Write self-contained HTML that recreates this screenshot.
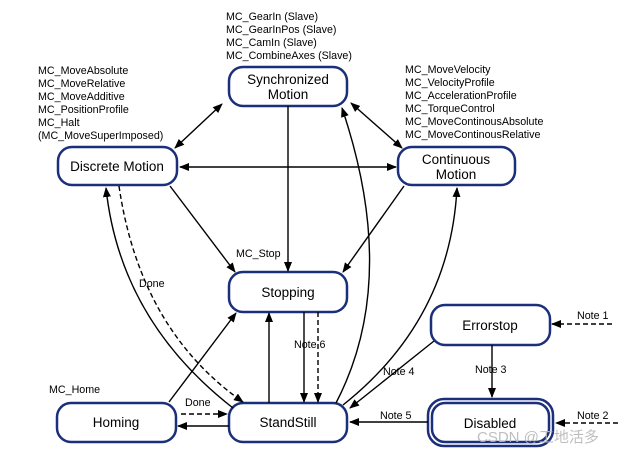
<!DOCTYPE html>
<html><head><meta charset="utf-8"><style>
html,body{margin:0;padding:0;background:#fff;}
svg{display:block;font-family:"Liberation Sans","Noto Sans CJK SC",sans-serif;}
</style></head><body>
<svg width="626" height="454" viewBox="0 0 626 454" xmlns="http://www.w3.org/2000/svg">
<defs>
<marker id="a" markerWidth="10" markerHeight="8" refX="9" refY="4" orient="auto" markerUnits="userSpaceOnUse"><path d="M0,0 L10,4 L0,8 z" fill="#000"/></marker>
<marker id="s" markerWidth="10" markerHeight="8" refX="1" refY="4" orient="auto" markerUnits="userSpaceOnUse"><path d="M10,0 L0,4 L10,8 z" fill="#000"/></marker>
</defs>
<g fill="none" stroke="#1b2f7a" stroke-width="2.5">
<rect x="229" y="67" width="118" height="39" rx="14"/>
<rect x="58" y="147" width="119" height="38" rx="14"/>
<rect x="398" y="147" width="117" height="38" rx="14"/>
<rect x="229" y="272" width="118" height="40" rx="14"/>
<rect x="431" y="305" width="119" height="40" rx="14"/>
<rect x="57" y="403" width="119" height="39" rx="14"/>
<rect x="229" y="403" width="118" height="39" rx="14"/>
<rect x="428" y="399" width="125" height="47" rx="16"/>
<rect x="432" y="403" width="117" height="39" rx="13"/>
</g>
<g font-size="13.5" text-anchor="middle" fill="#000">
<text x="288" y="84">Synchronized</text><text x="288" y="99">Motion</text>
<text x="117" y="171">Discrete Motion</text>
<text x="456" y="164">Continuous</text><text x="456" y="179">Motion</text>
<text x="288" y="297">Stopping</text>
<text x="490" y="330">Errorstop</text>
<text x="116" y="427">Homing</text>
<text x="288" y="427">StandStill</text>
<text x="490" y="428">Disabled</text>
</g>
<g font-size="10.7" fill="#000">
<text x="226" y="20">MC_GearIn (Slave)</text>
<text x="226" y="33">MC_GearInPos (Slave)</text>
<text x="226" y="46">MC_CamIn (Slave)</text>
<text x="226" y="59">MC_CombineAxes (Slave)</text>
<text x="38" y="74">MC_MoveAbsolute</text>
<text x="38" y="87">MC_MoveRelative</text>
<text x="38" y="100">MC_MoveAdditive</text>
<text x="38" y="113">MC_PositionProfile</text>
<text x="38" y="126">MC_Halt</text>
<text x="38" y="139">(MC_MoveSuperImposed)</text>
<text x="405" y="73">MC_MoveVelocity</text>
<text x="405" y="86">MC_VelocityProfile</text>
<text x="405" y="99">MC_AccelerationProfile</text>
<text x="405" y="112">MC_TorqueControl</text>
<text x="405" y="125">MC_MoveContinousAbsolute</text>
<text x="405" y="138">MC_MoveContinousRelative</text>
<text x="236" y="257">MC_Stop</text>
<text x="139" y="287">Done</text>
<text x="294" y="348">Note 6</text>
<text x="49" y="393">MC_Home</text>
<text x="185" y="406">Done</text>
<text x="383" y="375">Note 4</text>
<text x="475" y="373">Note 3</text>
<text x="380" y="419">Note 5</text>
<text x="577" y="319">Note 1</text>
<text x="577" y="419">Note 2</text>
</g>
<g fill="none" stroke="#000" stroke-width="1.4">
<line x1="222" y1="104" x2="175" y2="148" marker-start="url(#s)" marker-end="url(#a)"/>
<line x1="351" y1="103" x2="402" y2="148" marker-start="url(#s)" marker-end="url(#a)"/>
<line x1="180" y1="167" x2="396" y2="167" marker-start="url(#s)" marker-end="url(#a)"/>
<line x1="288" y1="106" x2="288" y2="271" marker-end="url(#a)"/>
<line x1="170" y1="186" x2="235" y2="272" marker-end="url(#a)"/>
<line x1="404" y1="186" x2="343" y2="272" marker-end="url(#a)"/>
<path d="M233,408 Q120,320 106,188" marker-end="url(#a)"/>
<path d="M119,186 Q140,330 243,402" stroke-dasharray="5,3" marker-end="url(#a)"/>
<path d="M336,403 Q400,280 342,108" marker-end="url(#a)"/>
<path d="M343,405 Q450,320 457,188" marker-end="url(#a)"/>
<line x1="269" y1="403" x2="269" y2="313" marker-end="url(#a)"/>
<line x1="304" y1="312" x2="304" y2="402" marker-end="url(#a)"/>
<line x1="318" y1="312" x2="318" y2="402" stroke-dasharray="5,3" marker-end="url(#a)"/>
<line x1="169" y1="402" x2="236" y2="313" marker-end="url(#a)"/>
<line x1="181" y1="414" x2="227" y2="414" stroke-dasharray="5,3" marker-end="url(#a)"/>
<line x1="229" y1="426" x2="178" y2="426" marker-end="url(#a)"/>
<line x1="434" y1="341" x2="350" y2="408" marker-end="url(#a)"/>
<line x1="492" y1="345" x2="492" y2="397" marker-end="url(#a)"/>
<line x1="428" y1="422" x2="350" y2="422" marker-end="url(#a)"/>
<line x1="612" y1="324" x2="552" y2="324" stroke-dasharray="5,3" marker-end="url(#a)"/>
<line x1="618" y1="423" x2="556" y2="423" stroke-dasharray="5,3" marker-end="url(#a)"/>
</g>
<text x="477" y="442" font-size="15" fill="#b8b8b8" opacity="0.9">CSDN @工地活多</text>
</svg>
</body></html>
